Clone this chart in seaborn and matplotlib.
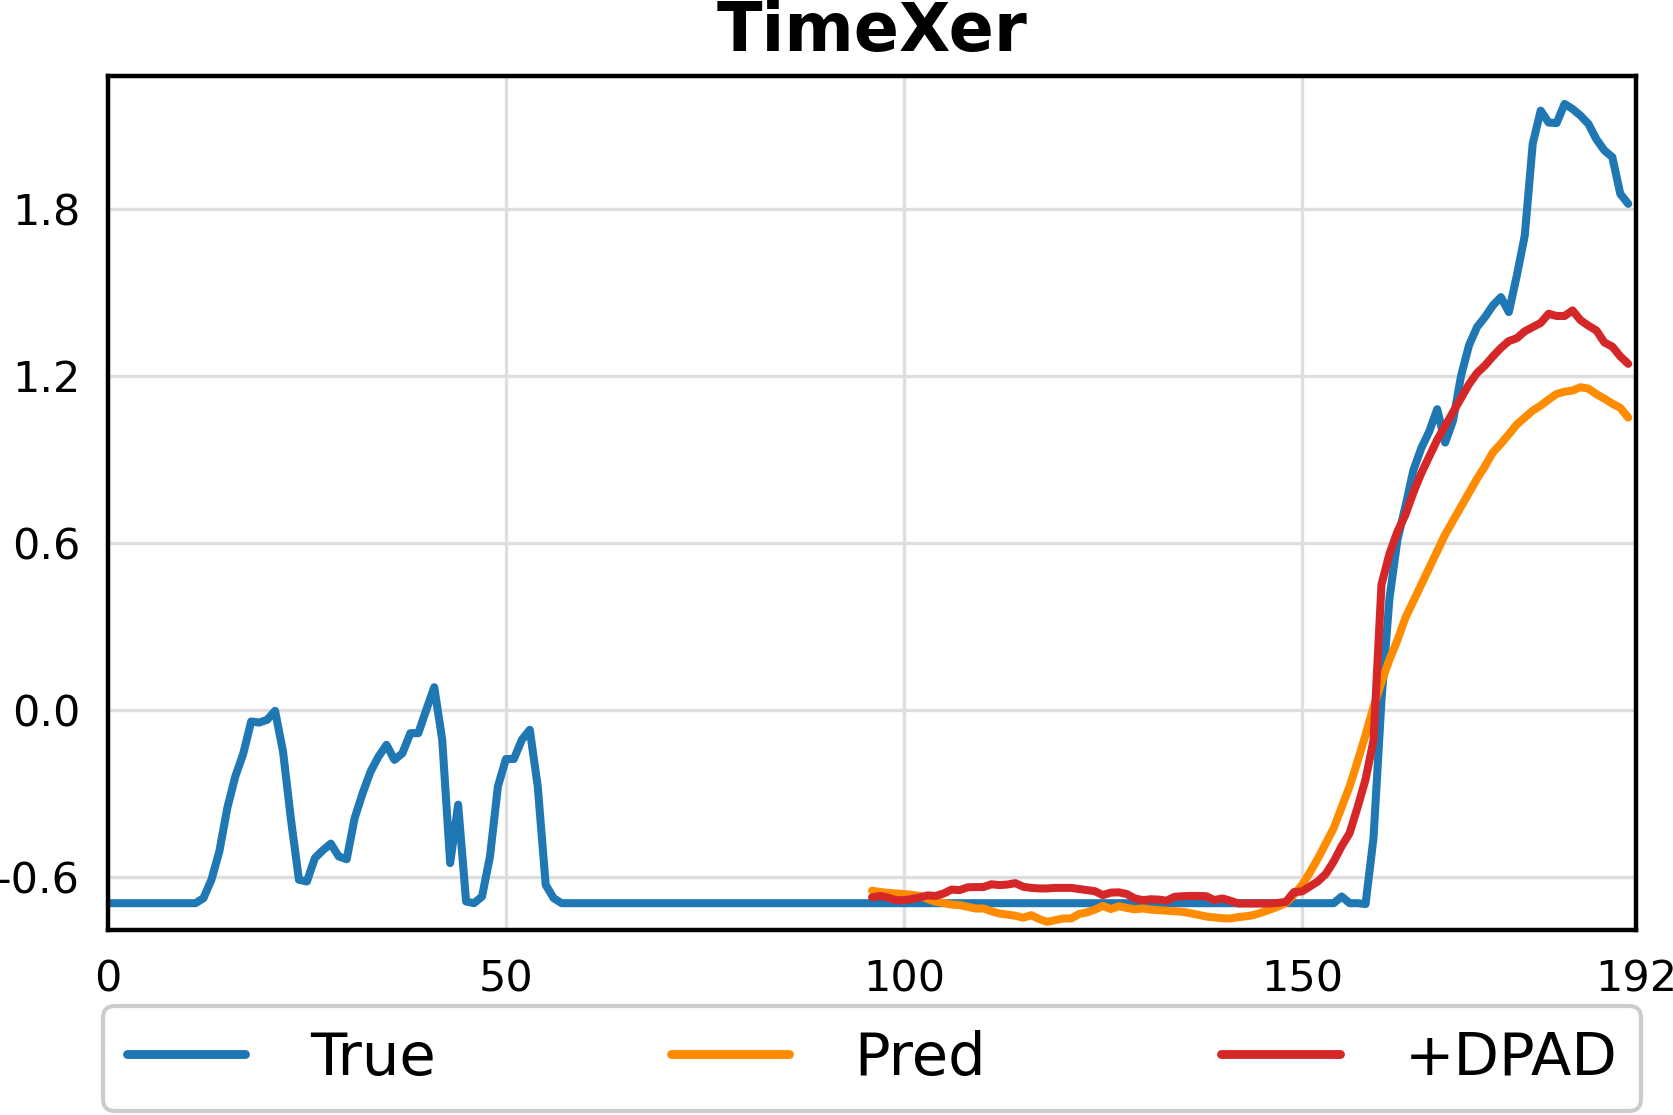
import numpy as np
import pandas as pd
import seaborn as sns
import matplotlib
matplotlib.use("Agg")
import matplotlib.pyplot as plt

# ---------------- data ----------------
true_vals = (
    [-0.695] * 12 +
    [-0.677, -0.611, -0.509, -0.353, -0.24, -0.158, -0.042, -0.046, -0.036, -0.004,
     -0.15, -0.395, -0.611, -0.617, -0.533, -0.505, -0.481, -0.527, -0.537, -0.389,
     -0.30, -0.222, -0.168, -0.126, -0.18, -0.156, -0.084, -0.084, 0.0, 0.081,
     -0.108, -0.551, -0.341, -0.689, -0.695, -0.671, -0.527, -0.275, -0.177, -0.177,
     -0.108, -0.072, -0.275, -0.629, -0.677] +
    [-0.695] * 98 +
    [-0.671, -0.695, -0.695, -0.698, -0.46, 0.035, 0.40, 0.61, 0.73, 0.86,
     0.94, 1.00, 1.08, 0.96, 1.04, 1.20, 1.31, 1.375, 1.411, 1.453,
     1.483, 1.429, 1.56, 1.704, 2.034, 2.153, 2.11, 2.108, 2.177, 2.159,
     2.135, 2.105, 2.05, 2.01, 1.986, 1.854, 1.818]
)

pred_vals = [
    -0.650, -0.655, -0.658, -0.660, -0.662, -0.665, -0.669, -0.680, -0.690, -0.694,
    -0.700, -0.702, -0.708, -0.714, -0.714, -0.724, -0.732, -0.736, -0.740, -0.747,
    -0.738, -0.752, -0.762, -0.756, -0.750, -0.750, -0.734, -0.728, -0.718, -0.705,
    -0.716, -0.706, -0.712, -0.717, -0.714, -0.718, -0.720, -0.722, -0.724, -0.726,
    -0.731, -0.737, -0.743, -0.746, -0.749, -0.750, -0.745, -0.742, -0.737, -0.728,
    -0.718, -0.707, -0.694, -0.665, -0.630, -0.585, -0.535, -0.480, -0.425, -0.350,
    -0.275, -0.185, -0.09, 0.01, 0.10, 0.18, 0.25, 0.33, 0.39, 0.45,
    0.51, 0.57, 0.63, 0.68, 0.73, 0.78, 0.83, 0.875, 0.925, 0.956,
    0.99, 1.025, 1.05, 1.075, 1.093, 1.115, 1.135, 1.143, 1.147, 1.159,
    1.154, 1.134, 1.118, 1.10, 1.085, 1.05,
]

dpad_vals = [
    -0.674, -0.669, -0.675, -0.684, -0.684, -0.680, -0.674, -0.667, -0.669, -0.660,
    -0.646, -0.648, -0.638, -0.637, -0.637, -0.627, -0.630, -0.628, -0.623, -0.636,
    -0.640, -0.642, -0.642, -0.640, -0.640, -0.640, -0.644, -0.648, -0.652, -0.666,
    -0.657, -0.656, -0.662, -0.678, -0.684, -0.681, -0.682, -0.686, -0.672, -0.670,
    -0.669, -0.669, -0.670, -0.684, -0.678, -0.686, -0.696, -0.696, -0.696, -0.696,
    -0.696, -0.694, -0.690, -0.655, -0.653, -0.635, -0.617, -0.590, -0.545, -0.49,
    -0.443, -0.35, -0.25, -0.11, 0.45, 0.56, 0.64, 0.70, 0.78, 0.85,
    0.91, 0.97, 1.02, 1.07, 1.12, 1.17, 1.21, 1.237, 1.27, 1.30,
    1.325, 1.335, 1.36, 1.375, 1.39, 1.423, 1.415, 1.415, 1.435, 1.40,
    1.38, 1.363, 1.32, 1.305, 1.27, 1.243,
]

pred_start = 96
x_ticks = [0, 50, 100, 150, 192]
y_ticks = [-0.6, 0.0, 0.6, 1.2, 1.8]
y_tick_labels = ["-0.6", "0.0", "0.6", "1.2", "1.8"]
series_labels = ["True", "Pred", "+DPAD"]
title = "TimeXer"

# ---------------- plot ----------------
sns.set_style("white")
plt.rcParams["font.family"] = ["DejaVu Sans"]
plt.rcParams["text.color"] = "black"
plt.rcParams["xtick.color"] = "black"
plt.rcParams["ytick.color"] = "black"
plt.rcParams["axes.labelcolor"] = "black"

fig = plt.figure(figsize=(8.365, 5.575), dpi=200)
ax = fig.add_axes([0.0645, 0.1655, 0.9135, 0.7665])

x_true = np.arange(len(true_vals))
x_pred = np.arange(pred_start, pred_start + len(pred_vals))

lw = 2.9
sns.lineplot(x=x_true, y=true_vals, color="#1f77b4", lw=lw, label=series_labels[0], ax=ax)
sns.lineplot(x=x_pred, y=pred_vals, color="#ff8c00", lw=lw, label=series_labels[1], ax=ax)
sns.lineplot(x=x_pred, y=dpad_vals, color="#d62728", lw=lw, label=series_labels[2], ax=ax)

ax.set_xlim(0, 192)
ax.set_ylim(-0.793, 2.278)
ax.set_xticks(x_ticks)
ax.set_yticks(y_ticks)
ax.set_yticklabels(y_tick_labels)
ax.tick_params(axis="both", labelsize=15.5, length=5, width=1.3, colors="black",
               direction="out", pad=5)
ax.grid(True, color="#dedede", lw=1.2)
for s in ax.spines.values():
    s.set_color("black")
    s.set_linewidth(1.6)
ax.set_xlabel("")
ax.set_ylabel("")
ax.set_title(title, fontsize=24, fontweight="bold", pad=9, color="black")

ax.legend_.remove()
handles, labels = ax.get_legend_handles_labels()
leg = fig.legend(handles, labels, loc="lower left", bbox_to_anchor=(0.0616, 0.004, 0.9194, 0.092),
                 mode="expand", ncol=3, fontsize=21.3, frameon=True, fancybox=True,
                 edgecolor="#cccccc", framealpha=1, handlelength=2.0, handletextpad=1.1,
                 borderaxespad=0.0)
leg.get_frame().set_linewidth(1.5)
for line in leg.get_lines():
    line.set_linewidth(3.2)

fig.savefig("out.png", dpi=200)
